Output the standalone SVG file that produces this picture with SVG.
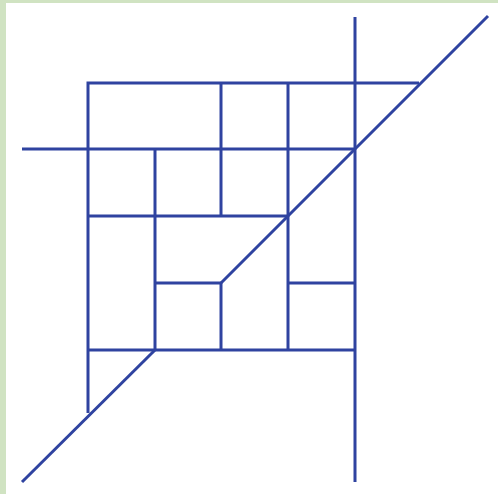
<svg xmlns="http://www.w3.org/2000/svg" width="498" height="494" viewBox="0 0 498 494">
<style>
.ln{stroke:#2f43a0;stroke-width:3;fill:none;stroke-linecap:butt;stroke-linejoin:miter}
</style>
<rect x="0" y="0" width="498" height="494" fill="#ffffff"/>
<rect x="0" y="0" width="6" height="494" fill="#d0e3c2"/>
<rect x="0" y="0" width="498" height="3" fill="#d0e3c2"/>
<g id="lines" class="ln">
<path d="M88,413 V83 H419"/>
<path d="M22,149 H355"/>
<path d="M88,216 H288"/>
<path d="M155,283 H221"/>
<path d="M288,283 H355"/>
<path d="M88,350 H355"/>
<path d="M155,149 V350"/>
<path d="M221,83 V216"/>
<path d="M221,283 V350"/>
<path d="M288,83 V350"/>
<path d="M355,17 V482"/>
<path d="M22,482 L155,350"/>
<path d="M221,283 L488,16"/>
</g>
</svg>
